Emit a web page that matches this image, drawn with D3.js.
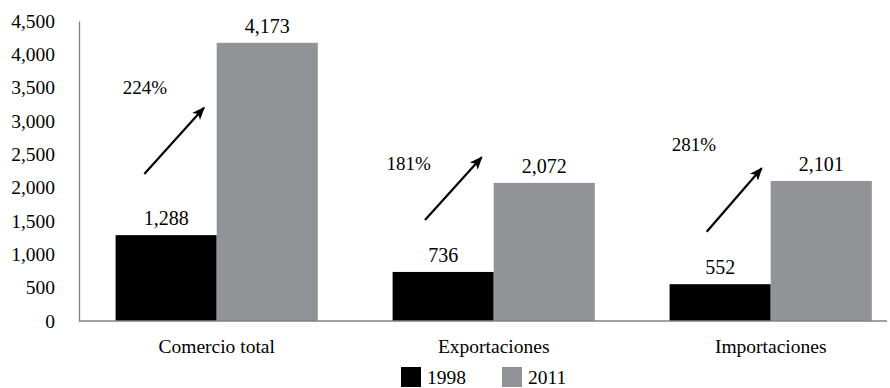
<!DOCTYPE html>
<html>
<head>
<meta charset="utf-8">
<script src="https://cdn.jsdelivr.net/npm/d3@7"></script>
<style>
  html, body { margin: 0; padding: 0; background: #fff; }
  svg { display: block; font-family: "Liberation Serif", "Times New Roman", serif; }
</style>
</head>
<body>
<svg id="chart" width="890" height="388"></svg>
<script>
// ---- data ----
const categories = ["Comercio total", "Exportaciones", "Importaciones"];
const seriesNames = ["1998", "2011"];
const values1998 = [1288, 736, 552];
const values2011 = [4173, 2072, 2101];
const growthLabels = ["224%", "181%", "281%"];
const yTicks = [0, 500, 1000, 1500, 2000, 2500, 3000, 3500, 4000, 4500];
// arrow annotations in data units: [start value, end value]
const arrowFrom = [2205, 1515, 1340];
const arrowTo = [3200, 2455, 2290];
const growthLabelValue = [3495, 2355, 2640];

const colors = { "1998": "#000000", "2011": "#929396" };

const svg = d3.select("#chart");

const y = d3.scaleLinear().domain([0, 4500]).range([321, 21]);
const x0 = d3.scaleBand().domain(categories).range([78.2, 909.2])
  .paddingInner(0.27).paddingOuter(0.135);
const x1 = d3.scaleBand().domain(seriesNames).range([0, x0.bandwidth()]);

const fmt = d3.format(",");

// y axis
const yAxis = d3.axisLeft(y).tickValues(yTicks).tickFormat(fmt).tickSize(0).tickPadding(24);
const gy = svg.append("g").attr("transform", "translate(79,0)").call(yAxis);
gy.select(".domain").attr("stroke", "#808080").attr("stroke-width", 1.3);
gy.selectAll("text").attr("font-size", 19.5).attr("fill", "#000")
  .attr("font-family", "Liberation Serif, serif");

// bars
const data = categories.map((c, i) => ({ cat: c, vals: [values1998[i], values2011[i]] }));
const groups = svg.append("g").selectAll("g").data(data).join("g")
  .attr("transform", d => `translate(${x0(d.cat)},0)`);

groups.selectAll("rect").data(d => d.vals.map((v, j) => ({ s: seriesNames[j], v })))
  .join("rect")
  .attr("x", d => x1(d.s))
  .attr("width", x1.bandwidth())
  .attr("y", d => y(d.v))
  .attr("height", d => y(0) - y(d.v))
  .attr("fill", d => colors[d.s]);

groups.selectAll("text.val").data(d => d.vals.map((v, j) => ({ s: seriesNames[j], v })))
  .join("text").attr("class", "val")
  .attr("x", d => x1(d.s) + x1.bandwidth() / 2)
  .attr("y", d => y(d.v) - 10)
  .attr("text-anchor", "middle")
  .attr("font-size", 20)
  .text(d => fmt(d.v));

// baseline
svg.append("line")
  .attr("x1", 79).attr("x2", 887)
  .attr("y1", y(0)).attr("y2", y(0))
  .attr("stroke", "#808080").attr("stroke-width", 1.5);

// category labels
svg.append("g").selectAll("text").data(categories).join("text")
  .attr("x", d => x0(d) + x0.bandwidth() / 2)
  .attr("y", 353)
  .attr("text-anchor", "middle")
  .attr("font-size", 19.5)
  .text(d => d);

// arrows
const defs = svg.append("defs");
defs.append("marker").attr("id", "arrowhead")
  .attr("viewBox", "0 0 10 10").attr("refX", 9).attr("refY", 5)
  .attr("markerWidth", 6).attr("markerHeight", 6)
  .attr("markerUnits", "strokeWidth")
  .attr("orient", "auto")
  .append("path").attr("d", "M0,1 L10,5 L0,9 L2.5,5 Z").attr("fill", "#000");

const arrowStartOffset = [-72.4, -68.7, -64];
const arrowEndOffset = [-12.7, -12, -9];
const labelOffset = [-71.7, -85, -76.7];

categories.forEach((c, i) => {
  const cx = x0(c) + x0.bandwidth() / 2;
  svg.append("line")
    .attr("x1", cx + arrowStartOffset[i]).attr("y1", y(arrowFrom[i]))
    .attr("x2", cx + arrowEndOffset[i]).attr("y2", y(arrowTo[i]))
    .attr("stroke", "#000").attr("stroke-width", 2.2)
    .attr("marker-end", "url(#arrowhead)");
  svg.append("text")
    .attr("x", cx + labelOffset[i]).attr("y", y(growthLabelValue[i]) + 6)
    .attr("text-anchor", "middle")
    .attr("font-size", 19)
    .text(growthLabels[i]);
});

// legend
const legend = svg.append("g");
const legX = [401, 502];
seriesNames.forEach((s, i) => {
  legend.append("rect").attr("x", legX[i]).attr("y", 367).attr("width", 20).attr("height", 20)
    .attr("fill", colors[s]);
  legend.append("text").attr("x", legX[i] + 26).attr("y", 384)
    .attr("font-size", 19.5).text(s);
});
</script>
</body>
</html>
